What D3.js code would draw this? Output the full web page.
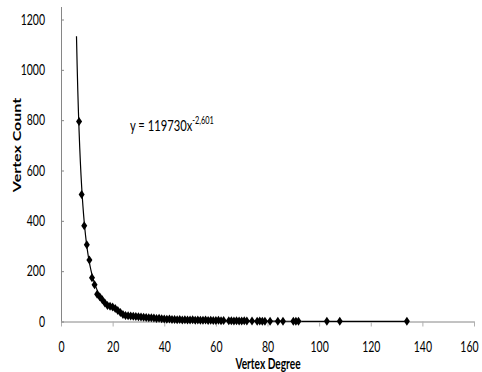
<!DOCTYPE html>
<html>
<head>
<meta charset="utf-8">
<script src="https://cdn.jsdelivr.net/npm/d3@7"></script>
<style>
  body { margin: 0; background: #fff; }
  text { fill: #000; }
</style>
</head>
<body>
<div id="chart"></div>
<script>
// vertex degree -> vertex count
const degrees = [7, 8, 9, 10, 11, 12, 13, 14, 15, 16, 17, 18, 19, 20, 21, 22, 23, 24, 25, 26,
  27, 28, 29, 30, 31, 32, 33, 34, 35, 36, 37, 38, 39, 40, 41, 42, 43, 44, 45, 46,
  47, 48, 49, 50, 51, 52, 53, 54, 55, 56, 57, 58, 59, 60, 61, 62, 63, 65, 66, 67,
  68, 69, 70, 71, 72, 74, 76, 77, 78, 79, 81, 84, 86, 90, 91, 92, 103, 108, 134]
const counts = [795, 505, 380, 305, 244, 174, 146, 108, 98, 86, 74, 64, 61, 58, 52, 44, 36, 28, 24, 23,
  22, 21, 20, 19, 18, 17, 16, 15, 15, 14, 12, 13, 11, 10, 9, 10, 8, 8, 7, 8,
  6, 7, 6, 6, 7, 5, 6, 5, 5, 6, 4, 5, 4, 4, 5, 3, 4, 3, 3, 2,
  3, 2, 2, 3, 2, 2, 1, 2, 1, 1, 1, 1, 1, 1, 1, 1, 1, 1, 1]

// power trendline shown on the chart: y = 119730 x^-2.601
const fitA = 119730
const fitB = -2.601
const fitRange = [6, 134]

const xTicks = [0, 20, 40, 60, 80, 100, 120, 140, 160]
const yTicks = [0, 200, 400, 600, 800, 1000, 1200]

const width = 482, height = 372
const squash = 0.7   // the original picture is horizontally squeezed

const svg = d3.select("#chart").append("svg")
  .attr("width", width)
  .attr("height", height)

const x = d3.scaleLinear().domain([0, 160]).range([61, 474])
const y = d3.scaleLinear().domain([0, 1200]).range([321.5, 19.5])

// axes
const xAxis = svg.append("g")
  .attr("transform", "translate(0," + y(0) + ")")
  .call(d3.axisBottom(x).tickValues(xTicks).tickFormat(d3.format("d"))
    .tickSize(5).tickPadding(15).tickSizeOuter(0))
xAxis.select(".domain").attr("stroke", "#868686")
xAxis.selectAll(".tick line").attr("stroke", "#b0b0b0")
xAxis.selectAll(".tick text")
  .attr("x", d => d === 160 ? -5 / squash : 0)
  .attr("transform", "scale(" + squash + ",1)")
  .style("font-family", "Lato, sans-serif")
  .style("font-size", "15px")
  .attr("fill", "#000")

const yAxis = svg.append("g")
  .attr("transform", "translate(" + x(0) + ",0)")
  .call(d3.axisLeft(y).tickValues(yTicks).tickFormat(d3.format("d"))
    .tickSize(-3).tickPadding(0).tickSizeOuter(0))
yAxis.select(".domain").attr("d", "M0.5," + 7 + "V" + y(0))
  .attr("stroke", "#868686")
yAxis.selectAll(".tick line").attr("stroke", "#868686")
yAxis.selectAll(".tick text")
  .attr("x", -16 / squash)
  .attr("transform", "scale(" + squash + ",1)")
  .style("font-family", "Lato, sans-serif")
  .style("font-size", "15px")
  .attr("fill", "#000")

// trendline
const fitX = d3.range(fitRange[0], fitRange[1] + 0.25, 0.25)
const line = d3.line()
  .x(d => x(d))
  .y(d => y(fitA * Math.pow(d, fitB)))
svg.append("path")
  .datum(fitX)
  .attr("fill", "none")
  .attr("stroke", "#000")
  .attr("stroke-width", 1.2)
  .attr("d", line)

// diamond markers
const mw = 3, mh = 4.5
svg.append("g").selectAll("path")
  .data(degrees.map((d, i) => [d, counts[i]]))
  .enter()
  .append("path")
  .attr("transform", d => "translate(" + x(d[0]) + "," + y(d[1]) + ")")
  .attr("d", "M0," + (-mh) + "L" + mw + ",0L0," + mh + "L" + (-mw) + ",0Z")
  .attr("fill", "#000")

// equation label
const eq = svg.append("text")
  .attr("transform", "translate(130,131) scale(" + squash + ",1)")
  .style("font-family", "Lato, sans-serif")
  .style("font-size", "16px")
eq.append("tspan").text("y = 119730x")
eq.append("tspan").attr("dy", -7).style("font-size", "10.5px").text("-2,601")

// axis titles
svg.append("text")
  .attr("transform", "translate(268,369) scale(" + squash + ",1)")
  .attr("text-anchor", "middle")
  .style("font-family", "Lato, sans-serif")
  .style("font-weight", "bold")
  .style("font-size", "14.5px")
  .text("Vertex Degree")

svg.append("text")
  .attr("transform", "translate(21,145) scale(" + squash + ",1) rotate(-90)")
  .attr("text-anchor", "middle")
  .style("font-family", "Lato, sans-serif")
  .style("font-weight", "bold")
  .style("font-size", "16px")
  .text("Vertex Count")
</script>
</body>
</html>
